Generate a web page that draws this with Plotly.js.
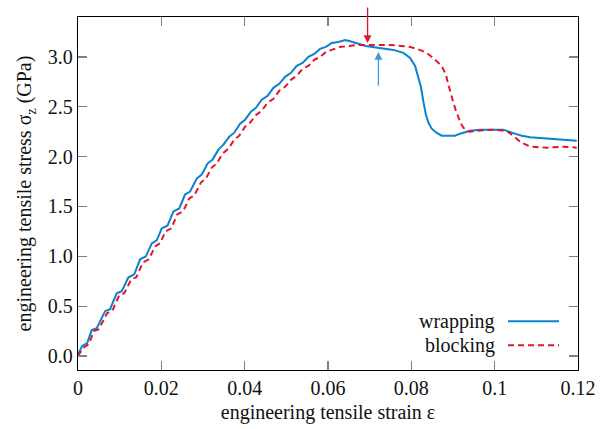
<!DOCTYPE html>
<html>
<head>
<meta charset="utf-8">
<script src="https://cdn.plot.ly/plotly-3.0.1.min.js"></script>
<style>html,body{margin:0;padding:0;background:#fff;}#chart{width:608px;height:429px;}</style>
</head>
<body>
<div id="chart"></div>
<script>
// wrapping (blue, solid)
const wrapStrain = [0,0.001,0.0022,0.0033,0.0045,0.0065,0.0077,0.0093,0.0105,0.0121,0.0135,0.0149,0.0163,0.0177,0.0189,0.0201,0.0215,0.0229,0.0243,0.0257,0.0269,0.0285,0.0297,0.0311,0.0323,0.0337,0.0349,0.0363,0.0375,0.0389,0.0401,0.0415,0.0427,0.0441,0.0455,0.0469,0.0483,0.0497,0.0511,0.0525,0.0539,0.0553,0.0567,0.0581,0.0595,0.0609,0.0625,0.0641,0.0651,0.0661,0.0675,0.069,0.0705,0.0725,0.0757,0.0781,0.0797,0.0809,0.0817,0.0823,0.0829,0.0835,0.0841,0.0849,0.086,0.0873,0.0893,0.0905,0.0917,0.0941,0.0965,0.099,0.1021,0.1045,0.1065,0.1085,0.1141,0.117,0.1197];
const wrapStress = [0.02,0.10,0.13,0.26,0.28,0.45,0.47,0.63,0.65,0.79,0.82,0.97,1.00,1.13,1.16,1.28,1.31,1.45,1.48,1.62,1.65,1.78,1.82,1.93,1.97,2.07,2.12,2.20,2.24,2.33,2.37,2.45,2.49,2.57,2.61,2.69,2.73,2.80,2.84,2.91,2.94,3.00,3.03,3.08,3.10,3.14,3.15,3.17,3.16,3.15,3.13,3.11,3.10,3.09,3.07,3.04,2.99,2.91,2.80,2.70,2.55,2.42,2.34,2.28,2.24,2.21,2.21,2.21,2.23,2.26,2.27,2.27,2.27,2.235,2.21,2.195,2.18,2.17,2.16];
// blocking (red, dashed)
const blockStrain = [0,0.0012,0.0026,0.0038,0.005,0.007,0.0082,0.0099,0.0111,0.0128,0.014,0.0156,0.017,0.0185,0.0197,0.021,0.0224,0.0238,0.0252,0.0267,0.0279,0.0295,0.0307,0.0321,0.0333,0.0347,0.0361,0.0375,0.0387,0.0401,0.0413,0.0428,0.0441,0.0455,0.0469,0.0483,0.0497,0.0511,0.0525,0.0539,0.0553,0.0567,0.0581,0.0595,0.0609,0.0629,0.065,0.0669,0.07,0.0749,0.0775,0.0797,0.082,0.0837,0.0852,0.0865,0.0875,0.0883,0.0889,0.0895,0.0901,0.0907,0.0913,0.0919,0.0925,0.0933,0.0941,0.0973,0.1,0.1029,0.1045,0.1061,0.1075,0.1085,0.1125,0.1165,0.1197];
const blockStress = [0.0,0.08,0.12,0.25,0.27,0.43,0.45,0.61,0.63,0.77,0.79,0.94,0.97,1.10,1.13,1.25,1.28,1.42,1.45,1.58,1.61,1.74,1.78,1.89,1.93,2.03,2.08,2.17,2.21,2.30,2.34,2.42,2.46,2.54,2.58,2.66,2.70,2.77,2.81,2.88,2.91,2.97,3.00,3.05,3.07,3.10,3.11,3.12,3.12,3.12,3.11,3.10,3.07,3.04,2.99,2.94,2.89,2.82,2.72,2.62,2.54,2.46,2.39,2.33,2.29,2.26,2.25,2.265,2.27,2.255,2.21,2.15,2.12,2.10,2.09,2.10,2.09];
const xTickVals = [0,0.02,0.04,0.06,0.08,0.1,0.12];
const xTickText = ['0','0.02','0.04','0.06','0.08','0.1','0.12'];
const yTickVals = [0,0.5,1.0,1.5,2.0,2.5,3.0];
const seriesNames = ['wrapping','blocking'];
const redArrow = {strain:0.0695, stress:3.14};
const blueArrow = {strain:0.0721, stress:3.05};

const BLUE = '#0a82cf', RED = '#e2142c';
const FONT = '"Liberation Serif", "Times New Roman", serif';
const FS = 20;
const DASH = '6px,4px';

const traces = [
  {x:wrapStrain, y:wrapStress, mode:'lines', name:seriesNames[0], line:{color:BLUE, width:2}, showlegend:false},
  {x:blockStrain, y:blockStress, mode:'lines', name:seriesNames[1], line:{color:RED, width:2, dash:DASH}, showlegend:false}
];

const axisCommon = {showline:true, linecolor:'#000', linewidth:1.3, mirror:'ticks', ticks:'inside', ticklen:9, tickcolor:'#808080', tickwidth:1.3, showgrid:false, zeroline:false, tickfont:{family:FONT, size:FS, color:'#111'}};

const layout = {
  width:608, height:429,
  margin:{l:78, r:30, t:17, b:59},
  paper_bgcolor:'#fff', plot_bgcolor:'#fff',
  font:{family:FONT, size:FS, color:'#111'},
  showlegend:false,
  xaxis:Object.assign({}, axisCommon, {range:[0,0.12], tickvals:xTickVals, ticktext:xTickText, automargin:false, title:{text:'engineering tensile strain ε', font:{family:FONT, size:FS}, standoff:6}}),
  yaxis:Object.assign({}, axisCommon, {range:[-0.14,3.40], tickvals:yTickVals, tickformat:'.1f', automargin:false, title:{text:'engineering tensile stress σ<sub>z</sub> (GPa)', font:{family:FONT, size:FS}, standoff:10}}),
  annotations:[
    {x:redArrow.strain, y:redArrow.stress, xref:'x', yref:'y', text:'', showarrow:true, ax:0, ay:-37, arrowcolor:RED, arrowwidth:1.3, arrowhead:2, arrowsize:1.2},
    {x:blueArrow.strain, y:blueArrow.stress, xref:'x', yref:'y', text:'', showarrow:true, ax:0, ay:35, arrowcolor:'#3a9ad9', arrowwidth:1.3, arrowhead:2, arrowsize:1.2},
    {x:0.837, y:0.137, xref:'paper', yref:'paper', text:seriesNames[0], showarrow:false, xanchor:'right', yanchor:'middle', font:{family:FONT, size:FS, color:'#111'}},
    {x:0.837, y:0.07, xref:'paper', yref:'paper', text:seriesNames[1], showarrow:false, xanchor:'right', yanchor:'middle', font:{family:FONT, size:FS, color:'#111'}}
  ],
  shapes:[
    {type:'line', xref:'paper', yref:'paper', x0:0.86, x1:0.962, y0:0.138, y1:0.138, line:{color:BLUE, width:2}},
    {type:'line', xref:'paper', yref:'paper', x0:0.86, x1:0.962, y0:0.07, y1:0.07, line:{color:RED, width:2, dash:DASH}}
  ]
};

Plotly.newPlot('chart', traces, layout, {displayModeBar:false, staticPlot:true});
</script>
</body>
</html>
